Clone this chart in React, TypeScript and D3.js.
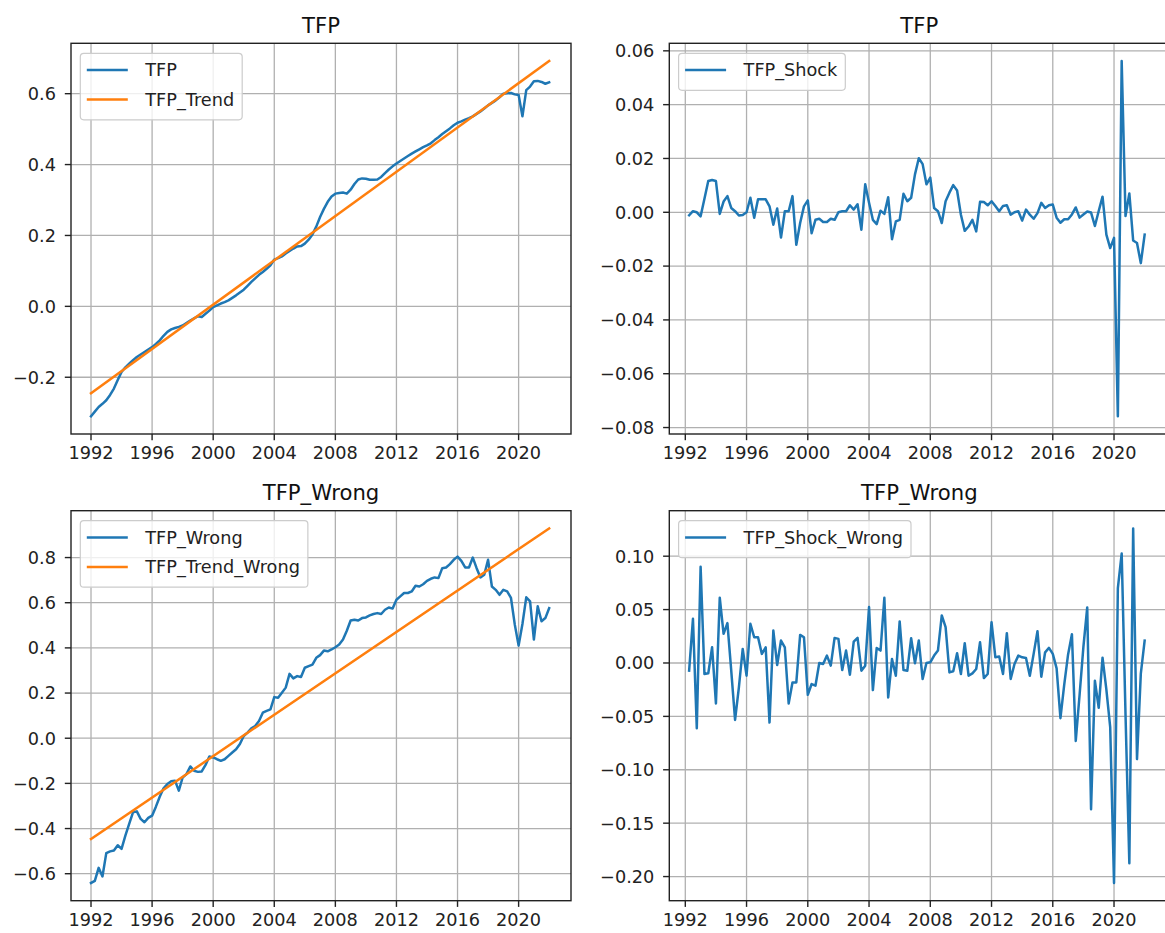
import React, { useEffect } from 'react';
import * as d3 from 'd3';

// ---------------- data ----------------
const tfpStart = 1992.0; // quarterly, 1992Q1 .. 2022Q1
const shockStart = 1992.25; // quarterly, 1992Q2 .. 2022Q1

const tfp = [
  -0.310, -0.297, -0.284, -0.275,
  -0.265, -0.250, -0.232, -0.208,
  -0.185, -0.172, -0.162, -0.152,
  -0.143, -0.136, -0.129, -0.122,
  -0.115, -0.106, -0.096, -0.083,
  -0.072, -0.065, -0.061, -0.058,
  -0.054, -0.047, -0.040, -0.034,
  -0.028, -0.030, -0.021, -0.012,
  -0.002, 0.003, 0.008, 0.012,
  0.017, 0.024, 0.031, 0.039,
  0.047, 0.058, 0.069, 0.079,
  0.089, 0.097, 0.106, 0.116,
  0.132, 0.136, 0.141, 0.149,
  0.156, 0.163, 0.169, 0.170,
  0.177, 0.188, 0.203, 0.225,
  0.252, 0.275, 0.295, 0.310,
  0.318, 0.320, 0.321, 0.318,
  0.329, 0.345, 0.358, 0.361,
  0.360, 0.357, 0.357, 0.358,
  0.365, 0.376, 0.386, 0.395,
  0.403, 0.410, 0.417, 0.424,
  0.431, 0.437, 0.443, 0.449,
  0.454, 0.460, 0.469, 0.477,
  0.486, 0.494, 0.502, 0.511,
  0.518, 0.522, 0.527, 0.531,
  0.536, 0.543, 0.550, 0.558,
  0.567, 0.574, 0.581, 0.590,
  0.600, 0.601, 0.602, 0.598,
  0.596, 0.536, 0.610, 0.620,
  0.635, 0.636, 0.633, 0.628,
  0.632,
];

const trendDates = [1992.0, 2022.0];
const tfpTrend = [-0.245, 0.692];
const tfpTrendWrong = [-0.446, 0.929];

const tfpWrong = [
  -0.641, -0.632, -0.574, -0.612,
  -0.509, -0.501, -0.497, -0.474,
  -0.490, -0.431, -0.379, -0.328,
  -0.324, -0.357, -0.372, -0.353,
  -0.343, -0.303, -0.259, -0.222,
  -0.203, -0.191, -0.188, -0.232,
  -0.174, -0.159, -0.125, -0.144,
  -0.149, -0.147, -0.118, -0.081,
  -0.085, -0.093, -0.100, -0.093,
  -0.078, -0.063, -0.049, -0.026,
  0.010, 0.025, 0.044, 0.054,
  0.076, 0.113, 0.121, 0.128,
  0.182, 0.179, 0.201, 0.224,
  0.285, 0.265, 0.275, 0.271,
  0.312, 0.319, 0.326, 0.356,
  0.368, 0.388, 0.385, 0.393,
  0.403, 0.415, 0.437, 0.476,
  0.521, 0.525, 0.521, 0.532,
  0.535, 0.544, 0.550, 0.554,
  0.550, 0.569, 0.579, 0.574,
  0.613, 0.628, 0.643, 0.643,
  0.650, 0.675, 0.672, 0.682,
  0.697, 0.706, 0.712, 0.709,
  0.753, 0.756, 0.771, 0.790,
  0.804, 0.785, 0.756, 0.756,
  0.800, 0.753, 0.712, 0.724,
  0.790, 0.672, 0.657, 0.635,
  0.657, 0.650, 0.621, 0.503,
  0.410, 0.506, 0.624, 0.606,
  0.437, 0.584, 0.518, 0.532,
  0.576,
];

const tfpShock = [
  -0.0011, 0.0004, 0.0000, -0.0015, 0.0050, 0.0116, 0.0120, 0.0116, -0.0006, 0.0040,
  0.0060, 0.0016, 0.0004, -0.0012, -0.0010, 0.0000, 0.0054, -0.0020, 0.0048, 0.0048,
  0.0048, 0.0022, -0.0046, 0.0014, -0.0094, 0.0004, 0.0004, 0.0060, -0.0121, -0.0040,
  0.0022, 0.0044, -0.0078, -0.0028, -0.0024, -0.0036, -0.0036, -0.0024, -0.0028, 0.0000,
  0.0004, 0.0004, 0.0026, 0.0010, 0.0030, -0.0065, 0.0104, 0.0035, -0.0028, -0.0044,
  0.0006, -0.0006, 0.0056, -0.0100, -0.0034, -0.0028, 0.0069, 0.0041, 0.0054, 0.0141,
  0.0201, 0.0179, 0.0104, 0.0129, 0.0016, 0.0004, -0.0040, 0.0041, 0.0073, 0.0101,
  0.0081, -0.0009, -0.0069, -0.0053, -0.0028, -0.0071, 0.0039, 0.0038, 0.0026, 0.0041,
  0.0023, 0.0004, 0.0023, 0.0026, -0.0009, 0.0000, 0.0004, -0.0031, 0.0010, -0.0009,
  -0.0024, -0.0003, 0.0035, 0.0016, 0.0026, 0.0029, -0.0020, -0.0039, -0.0026, -0.0026,
  -0.0008, 0.0018, -0.0020, -0.0008, 0.0003, -0.0001, -0.0051, 0.0005, 0.0058, -0.0083,
  -0.0133, -0.0095, -0.0758, 0.0562, -0.0014, 0.0070, -0.0105, -0.0114, -0.0189, -0.0083,
];

const tfpShockWrong = [
  -0.0072, 0.0414, -0.0611, 0.0900, -0.0103, -0.0097, 0.0147, -0.0379, 0.0611, 0.0273,
  0.0373, -0.0072, -0.0533, -0.0229, 0.0132, -0.0119, 0.0367, 0.0241, 0.0241, 0.0085,
  0.0147, -0.0558, 0.0304, -0.0019, 0.0210, 0.0147, -0.0379, -0.0182, -0.0182, 0.0263,
  0.0241, -0.0298, -0.0197, -0.0213, 0.0000, -0.0009, 0.0069, -0.0025, 0.0235, 0.0226,
  -0.0066, 0.0116, -0.0110, 0.0200, 0.0235, -0.0072, -0.0025, 0.0524, -0.0254, 0.0141,
  0.0116, 0.0611, -0.0323, 0.0038, -0.0119, 0.0389, -0.0066, -0.0072, 0.0232, -0.0003,
  0.0210, -0.0150, 0.0000, 0.0006, 0.0069, 0.0116, 0.0445, 0.0335, -0.0088, -0.0078,
  0.0091, -0.0103, 0.0185, -0.0119, -0.0097, -0.0056, 0.0194, -0.0141, -0.0103, 0.0382,
  0.0053, 0.0060, -0.0103, 0.0279, -0.0150, -0.0009, 0.0069, 0.0053, 0.0047, -0.0119,
  0.0085, 0.0298, -0.0129, 0.0100, 0.0141, 0.0085, -0.0050, -0.0517, -0.0200, 0.0080,
  0.0270, -0.0730, -0.0300, 0.0150, 0.0520, -0.1370, -0.0166, -0.0420, 0.0050, -0.0250,
  -0.0600, -0.2060, 0.0700, 0.1025, -0.0480, -0.1875, 0.1260, -0.0900, -0.0100, 0.0210,
];

const xTickYears = [1992, 1996, 2000, 2004, 2008, 2012, 2016, 2020];
const yTicksTFP = [-0.2, 0.0, 0.2, 0.4, 0.6];
const yTicksShock = [-0.08, -0.06, -0.04, -0.02, 0.0, 0.02, 0.04, 0.06];
const yTicksWrong = [-0.6, -0.4, -0.2, 0.0, 0.2, 0.4, 0.6, 0.8];
const yTicksShockWrong = [-0.2, -0.15, -0.1, -0.05, 0.0, 0.05, 0.1];

// ---------------- style ----------------
const FONT = "'DejaVu Sans', 'Liberation Sans', sans-serif";
const FS = 17.7;
const TITLE_FS = 21.2;
const BLUE = '#1f77b4';
const ORANGE = '#ff7f0e';
const W = 1165;
const H = 933;

let measureCtx: CanvasRenderingContext2D | null = null;
function textWidth(s: string, fs: number) {
  if (!measureCtx) measureCtx = document.createElement('canvas').getContext('2d');
  if (!measureCtx) return s.length * fs * 0.6;
  measureCtx.font = `${fs}px 'DejaVu Sans'`;
  return measureCtx.measureText(s).width;
}

type Series = { name: string; dates: number[]; values: number[]; color: string };

function quarterly(start: number, n: number) {
  return d3.range(n).map((i) => start + i * 0.25);
}

function Panel(props: {
  id: string;
  x0: number;
  y0: number;
  w: number;
  h: number;
  xDomain: [number, number];
  yTicks: number[];
  yDec: number;
  title: string;
  series: Series[];
}) {
  const { id, x0, y0, w, h, xDomain, yTicks, yDec, title, series } = props;
  const x = d3.scaleLinear().domain(xDomain).range([x0, x0 + w]);
  const all = series.flatMap((s) => s.values);
  const [mn, mx] = d3.extent(all) as [number, number];
  const pad = (mx - mn) * 0.05;
  const y = d3.scaleLinear().domain([mn - pad, mx + pad]).range([y0 + h, y0]);
  const line = d3
    .line<[number, number]>()
    .x((d) => x(d[0]))
    .y((d) => y(d[1]));
  const fmt = (v: number) => {
    let s = v.toFixed(yDec);
    if (/^-0\.0+$/.test(s)) s = s.slice(1);
    return s.replace('-', '\u2212');
  };
  const maxW = Math.max(...series.map((s) => textWidth(s.name, FS)));
  const bx = x0 + 9.3;
  const by = y0 + 10;
  const bw = 65 + maxW + 8;
  const bh = 37 + (series.length - 1) * 29.5;
  const tick = 6.2;

  return (
    <g>
      <defs>
        <clipPath id={`clip-${id}`}>
          <rect x={x0} y={y0} width={w} height={h} />
        </clipPath>
      </defs>
      {/* grid */}
      <g stroke="#b0b0b0" strokeWidth={1.3}>
        {xTickYears.map((t) => (
          <line key={`gx${t}`} x1={x(t)} x2={x(t)} y1={y0} y2={y0 + h} />
        ))}
        {yTicks.map((t) => (
          <line key={`gy${t}`} x1={x0} x2={x0 + w} y1={y(t)} y2={y(t)} />
        ))}
      </g>
      {/* series */}
      <g clipPath={`url(#clip-${id})`} fill="none" strokeWidth={2.5} strokeLinejoin="round" strokeLinecap="square">
        {series.map((s) => (
          <path
            key={s.name}
            d={line(s.dates.map((d, i) => [d, s.values[i]] as [number, number])) || ''}
            stroke={s.color}
          />
        ))}
      </g>
      {/* spines */}
      <rect x={x0} y={y0} width={w} height={h} fill="none" stroke="#222" strokeWidth={1.4} />
      {/* ticks */}
      <g stroke="#222" strokeWidth={1.4}>
        {xTickYears.map((t) => (
          <line key={`tx${t}`} x1={x(t)} x2={x(t)} y1={y0 + h} y2={y0 + h + tick} />
        ))}
        {yTicks.map((t) => (
          <line key={`ty${t}`} x1={x0 - tick} x2={x0} y1={y(t)} y2={y(t)} />
        ))}
      </g>
      <g fontFamily={FONT} fontSize={FS} fill="#222">
        {xTickYears.map((t) => (
          <text key={`lx${t}`} x={x(t)} y={y0 + h + 25} textAnchor="middle">
            {String(t)}
          </text>
        ))}
        {yTicks.map((t) => (
          <text key={`ly${t}`} x={x0 - 15} y={y(t) + 6.4} textAnchor="end">
            {fmt(t)}
          </text>
        ))}
      </g>
      {/* legend */}
      <g>
        <rect
          x={bx}
          y={by}
          width={bw}
          height={bh}
          rx={3.5}
          ry={3.5}
          fill="#ffffff"
          fillOpacity={0.8}
          stroke="#cccccc"
          strokeWidth={1.2}
        />
        {series.map((s, i) => {
          const ly = by + 16.7 + i * 29.5;
          return (
            <g key={`lg${s.name}`}>
              <line x1={bx + 6.5} x2={bx + 47.5} y1={ly} y2={ly} stroke={s.color} strokeWidth={2.5} />
              <text x={bx + 65} y={ly + 6.4} fontFamily={FONT} fontSize={FS} fill="#222">
                {s.name}
              </text>
            </g>
          );
        })}
      </g>
      {/* title */}
      <text x={x0 + w / 2} y={y0 - 10.6} textAnchor="middle" fontFamily={FONT} fontSize={TITLE_FS} fill="#111">
        {title}
      </text>
    </g>
  );
}

export default function App() {
  useEffect(() => {
    document.body.style.margin = '0';
  }, []);
  const tfpDates = quarterly(tfpStart, tfp.length);
  const shockDates = quarterly(shockStart, tfpShock.length);
  const leftDomain: [number, number] = [1990.69, 2023.43];
  const rightDomain: [number, number] = [1990.955, 2023.61];

  return (
    <svg
      width={W}
      height={H}
      viewBox={`0 0 ${W} ${H}`}
      style={{ display: 'block', position: 'absolute', left: 0, top: 0, background: '#fff' }}
    >
      <rect x={0} y={0} width={W} height={H} fill="#fff" />
      <Panel
        id="tl"
        x0={71}
        y0={43.3}
        w={500}
        h={390.7}
        xDomain={leftDomain}
        yTicks={yTicksTFP}
        yDec={1}
        title="TFP"
        series={[
          { name: 'TFP', dates: tfpDates, values: tfp, color: BLUE },
          { name: 'TFP_Trend', dates: trendDates, values: tfpTrend, color: ORANGE },
        ]}
      />
      <Panel
        id="tr"
        x0={669.3}
        y0={43.3}
        w={500}
        h={390.7}
        xDomain={rightDomain}
        yTicks={yTicksShock}
        yDec={2}
        title="TFP"
        series={[{ name: 'TFP_Shock', dates: shockDates, values: tfpShock, color: BLUE }]}
      />
      <Panel
        id="bl"
        x0={71}
        y0={510.7}
        w={500}
        h={390}
        xDomain={leftDomain}
        yTicks={yTicksWrong}
        yDec={1}
        title="TFP_Wrong"
        series={[
          { name: 'TFP_Wrong', dates: tfpDates, values: tfpWrong, color: BLUE },
          { name: 'TFP_Trend_Wrong', dates: trendDates, values: tfpTrendWrong, color: ORANGE },
        ]}
      />
      <Panel
        id="br"
        x0={669.3}
        y0={510.7}
        w={500}
        h={390}
        xDomain={rightDomain}
        yTicks={yTicksShockWrong}
        yDec={2}
        title="TFP_Wrong"
        series={[{ name: 'TFP_Shock_Wrong', dates: shockDates, values: tfpShockWrong, color: BLUE }]}
      />
    </svg>
  );
}
